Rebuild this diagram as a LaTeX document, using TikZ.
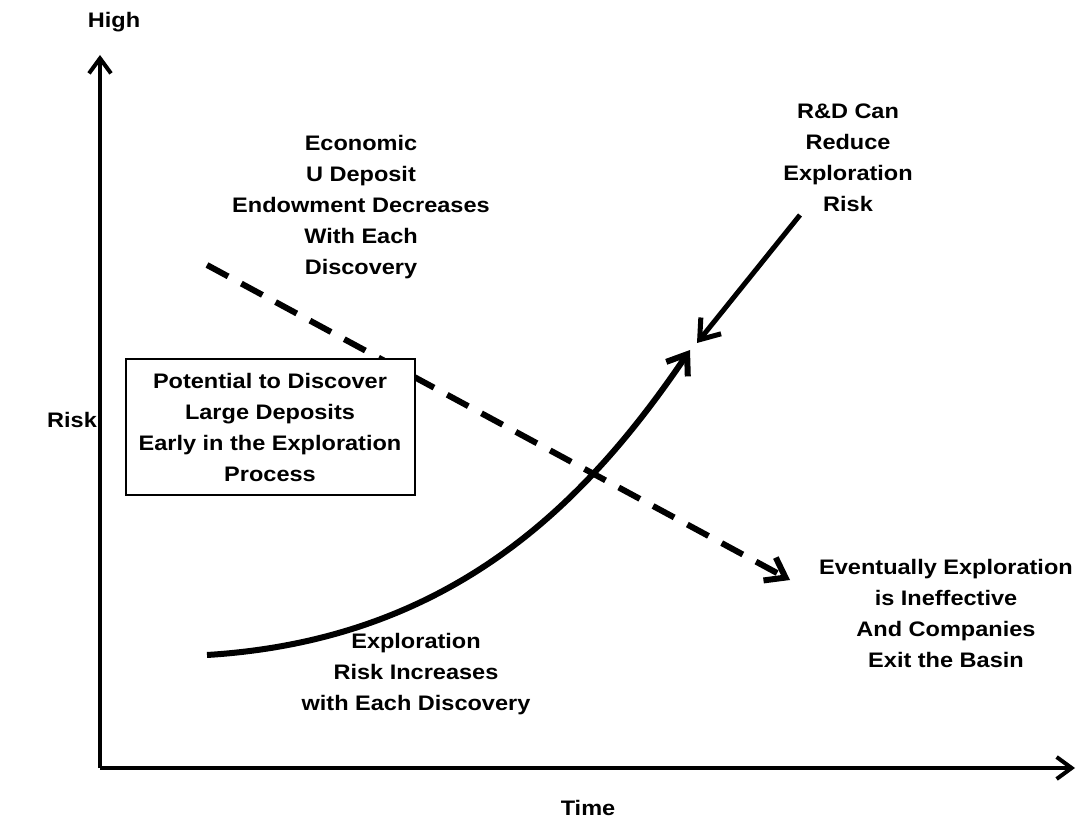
\documentclass[tikz,border=0pt]{standalone}
\usepackage{fontspec}
\setmainfont[FakeStretch=1.12]{Liberation Sans}
\usetikzlibrary{positioning,arrows.meta}

\tikzset{
	lbl/.style={align=center,font=\bfseries\fontsize{21}{31}\selectfont,inner sep=0pt},
	axis/.style={line width=4pt,-{Straight Barb[length=15pt,width=22pt]}},
	bigtip/.style={-{Straight Barb[length=18pt,width=26pt]}},
}

\begin{document}
\begin{tikzpicture}[x=1pt,y=-1pt]
		\useasboundingbox (0,0) rectangle (1080,826);
		% axes
		\coordinate (o) at (100,768);
		\coordinate (ytop) at (100,55);
		\coordinate (xend) at (1075,768);
		\draw[axis] (o)--(ytop);
		\draw[axis] (o)--(xend);
		\node[lbl] (high) at (114,22) {High};
		\node[lbl] (risk) at (72,420) {Risk};
		\node[lbl] (time) at (588,808) {Time};
		
		% endowment line
		\coordinate (ds) at (207,265);
		\coordinate (de) at (790,580);
		\draw[bigtip,line width=6pt,dash pattern=on 24pt off 15pt] (ds)--(de);
		
		% risk curve
		\coordinate (cs) at (207,655);
		\coordinate (ce) at (690,350);
		\draw[bigtip,line width=6pt] (cs) .. controls (450,640) and (585,505) .. (ce);
		
		% R&D
		\node[lbl] (rd) at (848,158) {R\&D Can\\Reduce\\Exploration\\Risk};
		\coordinate (rs) at (800,215);
		\coordinate (re) at (697,343);
		\draw[bigtip,line width=5pt] (rs)--(re);
		
		\node[lbl] (econ) at (361,207) {Economic\\U Deposit\\Endowment Decreases\\With Each\\Discovery};
		\node[lbl,draw,fill=white,line width=2pt,minimum width=289pt,minimum height=135pt] (pot) at (270,427) {Potential to Discover\\Large Deposits\\Early in the Exploration\\Process};
		\node[lbl] (ineff) at (946,613) {Eventually Exploration\\is Ineffective\\And Companies\\Exit the Basin};
		\node[lbl] (incr) at (416,674) {Exploration\\Risk Increases\\with Each Discovery};
	\end{tikzpicture}
\end{document}
